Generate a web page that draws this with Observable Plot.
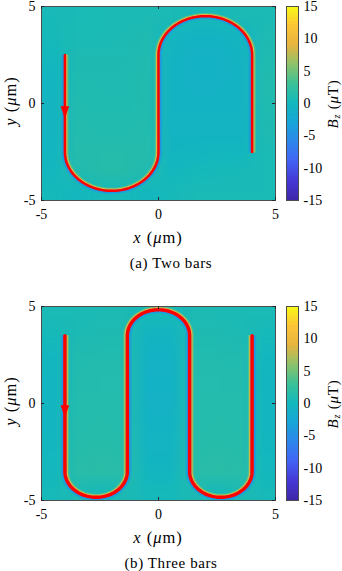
<!DOCTYPE html>
<html><head><meta charset="utf-8">
<script src="https://cdn.jsdelivr.net/npm/d3@7"></script>
<script src="https://cdn.jsdelivr.net/npm/@observablehq/plot@0.6"></script>
<style>
html,body{margin:0;padding:0;background:#fff;}
#root{position:relative;width:342px;height:571px;overflow:hidden;font-family:"Liberation Serif","DejaVu Serif",serif;color:#000;}
#root svg{position:absolute;}
.cap{position:absolute;left:0;width:342px;text-align:center;font-size:15px;line-height:16px;letter-spacing:0.6px;}
</style></head><body><div id="root"></div>
<script>
// ---------------- data ----------------
const xTicks = [-5, 0, 5];
const yTicks = [-5, 0, 5];
const cbTicks = [-15, -10, -5, 0, 5, 10, 15];
const bzDomain = [-15, 15];
const parulaDomain = [-15, -12, -9, -6, -3, 0, 3, 6, 9, 12, 15];
const parulaColors = ["#3e26a8", "#4538d5", "#4262f4", "#2d86ec", "#17a5d8", "#13b8bd", "#3cc197", "#8dc26a", "#e7b43f", "#fcc535", "#f9fb15"];
const gridExtent = [-5, 5];

// panel (a): two bars
const barsA = [-4, 0, 4];          // x of straight segments (µm)
const barEndsA = [2.5, -2.5];      // y of their ends (µm)
const arrowA = [-4, -0.72];        // arrow tip (µm)
const fieldA = [                   // Bz (µT), rows y = 4.5 … -4.5, cols x = -4.5 … 4.5
  [ 0.4,  0.5,  0.6,  0.6,  0.7,  0.6,  0.3,  0.3,  0.6,  0.6],
  [ 0.3,  0.6,  0.6,  0.7,  0.9, -0.4, -0.7, -0.7, -0.4,  0.8],
  [ 0.0,  0.8,  0.8,  0.8,  1.0, -0.6, -0.9, -0.9, -0.6,  0.9],
  [-0.3,  0.9,  0.9,  0.9,  1.1, -0.7, -0.9, -0.9, -0.7,  1.0],
  [-0.4,  1.0,  0.9,  0.9,  1.1, -0.7, -0.8, -0.8, -0.7,  1.0],
  [-0.4,  1.1,  1.0,  1.0,  1.1, -0.7, -0.7, -0.7, -0.7,  0.9],
  [-0.4,  1.2,  1.1,  1.1,  1.2, -0.6, -0.6, -0.6, -0.6,  0.8],
  [-0.3,  1.3,  1.3,  1.3,  1.3, -0.4, -0.3, -0.2, -0.2,  0.6],
  [-0.1,  1.0,  1.4,  1.4,  1.0, -0.1,  0.2,  0.3,  0.4,  0.5],
  [ 0.2, -0.1,  0.3,  0.3, -0.1,  0.3,  0.5,  0.5,  0.5,  0.5]
];

// panel (b): three bars
const barsB = [-4, -1.33, 1.33, 4];
const barEndsB = [3.5, -3.5];
const arrowB = [-4, -0.67];
const fieldB = [
  [ 0.5,  0.6,  0.7,  0.7,  0.2,  0.2,  0.7,  0.7,  0.6,  0.5],
  [ 0.2,  0.7,  0.9,  0.9, -0.6, -0.6,  0.9,  0.9,  0.7,  0.2],
  [-0.2,  1.0,  1.1,  1.1, -0.8, -0.8,  1.1,  1.1,  1.0, -0.2],
  [-0.3,  1.1,  1.2,  1.2, -0.9, -0.9,  1.2,  1.2,  1.1, -0.3],
  [-0.3,  1.2,  1.2,  1.2, -0.9, -0.9,  1.2,  1.2,  1.2, -0.3],
  [-0.3,  1.2,  1.3,  1.2, -0.8, -0.8,  1.2,  1.3,  1.2, -0.3],
  [-0.3,  1.3,  1.4,  1.3, -0.7, -0.7,  1.3,  1.4,  1.3, -0.3],
  [-0.2,  1.4,  1.5,  1.4, -0.6, -0.6,  1.4,  1.5,  1.4, -0.2],
  [ 0.0,  1.5,  1.7,  1.5, -0.3, -0.3,  1.5,  1.7,  1.5,  0.0],
  [ 0.3,  0.7,  0.3,  0.7,  0.2,  0.2,  0.7,  0.3,  0.7,  0.3]
];

// near-wire fringe levels (µT): left / right of the current
const fringeLevels = {posIn: 9, posOut: 3.5, negIn: -5, negOut: -2};

// ---------------- helpers ----------------
const colorOpts = {type: "linear", domain: parulaDomain, range: parulaColors, interpolate: "rgb", clamp: true};
const fmt = d => String(d);
const FONT = "Liberation Serif, DejaVu Serif, serif";

// points along the wire, offset d (µm) to the left of the current direction
function wirePath(bars, ends, d) {
  const pts = [], N = 72;
  for (let i = 0; i < bars.length; i++) {
    const down = i % 2 === 0;
    const y0 = down ? ends[0] : ends[1];
    const y1 = down ? ends[1] : ends[0];
    const nx = down ? d : -d;
    pts.push({x: bars[i] + nx, y: y0}, {x: bars[i] + nx, y: y1});
    if (i < bars.length - 1) {
      const cx = (bars[i] + bars[i + 1]) / 2, cy = y1;
      const r0 = Math.abs(bars[i + 1] - bars[i]) / 2;
      const r = down ? r0 - d : r0 + d;
      for (let k = 1; k < N; k++) {
        const t = Math.PI + (down ? 1 : -1) * Math.PI * k / N;
        pts.push({x: cx + r * Math.cos(t), y: cy + r * Math.sin(t)});
      }
    }
  }
  return pts;
}

const arrowHead = {draw(ctx) { ctx.moveTo(0, 0); ctx.lineTo(-4, -11); ctx.lineTo(4, -11); ctx.closePath(); }};

const W = 342, H = 250, mT = 6, mB = 50, mL = 41, mR = 67;
const innerW = W - mL - mR, innerH = H - mT - mB;

function panel(field, bars, ends, arrow, lw, offIn, offOut) {
  const fr = [
    {d: offOut, v: fringeLevels.posOut}, {d: -offOut, v: fringeLevels.negOut},
    {d: offIn, v: fringeLevels.posIn}, {d: -offIn, v: fringeLevels.negIn}
  ];
  return Plot.plot({
    width: W, height: H, marginTop: mT, marginBottom: mB, marginLeft: mL, marginRight: mR,
    x: {domain: gridExtent}, y: {domain: gridExtent},
    color: colorOpts,
    style: {fontFamily: FONT, fontSize: "14px", color: "#000", background: "transparent", overflow: "visible"},
    marks: [
      Plot.raster(field.flat(), {width: field[0].length, height: field.length,
        x1: gridExtent[0], x2: gridExtent[1], y1: gridExtent[1], y2: gridExtent[0], fill: d => d}),
      ...fr.map(f => Plot.line(wirePath(bars, ends, f.d), {x: "x", y: "y", stroke: () => f.v, strokeWidth: 1.3})),
      Plot.line(wirePath(bars, ends, 0), {x: "x", y: "y", stroke: "#ff0000", strokeWidth: lw, strokeLinejoin: "round"}),
      Plot.dot([arrow], {x: d => d[0], y: d => d[1], symbol: arrowHead, r: 6, fill: "#ff0000", stroke: "#ff0000", strokeWidth: 0.5}),
      Plot.frame({stroke: "#4d4d4d", strokeWidth: 1}),
      Plot.tickX(xTicks, {x: d => d, insetTop: innerH - 3, stroke: "#262626"}),
      Plot.tickX(xTicks, {x: d => d, insetBottom: innerH - 3, stroke: "#262626"}),
      Plot.tickY(yTicks, {y: d => d, insetRight: innerW - 3, stroke: "#262626"}),
      Plot.tickY(yTicks, {y: d => d, insetLeft: innerW - 3, stroke: "#262626"}),
      Plot.axisX(xTicks, {tickSize: 0, tickPadding: 9, tickFormat: fmt, fontSize: 14, label: null}),
      Plot.axisY(yTicks, {tickSize: 0, tickPadding: 6, tickFormat: fmt, fontSize: 14, label: null})
    ]
  });
}

function colorbar() {
  const step = 0.25;
  const ramp = d3.range(bzDomain[0], bzDomain[1], step);
  return Plot.plot({
    width: 62, height: H, marginTop: mT, marginBottom: mB, marginLeft: 6, marginRight: 44,
    x: {domain: [0, 1], axis: null}, y: {domain: bzDomain},
    color: colorOpts,
    style: {fontFamily: FONT, fontSize: "14px", color: "#000", background: "transparent", overflow: "visible"},
    marks: [
      Plot.rect(ramp, {x1: 0, x2: 1, y1: d => d, y2: d => d + step, fill: d => d + step / 2, shapeRendering: "crispEdges"}),
      Plot.frame({stroke: "#4d4d4d", strokeWidth: 1}),
      Plot.axisY(cbTicks, {anchor: "right", tickSize: 0, tickPadding: 5, tickFormat: fmt, fontSize: 14, label: null})
    ]
  });
}

function styledText(sel, size, ls) {
  return sel.attr("text-anchor", "middle").attr("dominant-baseline", "central")
    .attr("font-family", FONT).attr("font-size", size).attr("letter-spacing", ls).attr("fill", "#000");
}
function rotLabel(svg, x, y, size, ls, parts) {
  const t = styledText(d3.select(svg).append("text")
    .attr("transform", `translate(${x},${y}) rotate(-90)`), size, ls);
  parts(t);
}
function xLabel(svg) {
  const t = styledText(d3.select(svg).append("text").attr("x", mL + innerW / 2).attr("y", 237), 16.5, "1px");
  t.append("tspan").attr("font-style", "italic").text("x");
  t.append("tspan").text(" (");
  t.append("tspan").attr("font-style", "italic").text("μ");
  t.append("tspan").text("m)");
}
function yParts(t) {
  t.append("tspan").attr("font-style", "italic").text("y");
  t.append("tspan").text(" (");
  t.append("tspan").attr("font-style", "italic").text("μ");
  t.append("tspan").text("m)");
}
function bParts(t) {
  t.append("tspan").attr("font-style", "italic").text("B");
  t.append("tspan").attr("font-style", "italic").attr("font-size", 10).attr("dy", 3).text("z");
  t.append("tspan").attr("dy", -3).text(" (");
  t.append("tspan").attr("font-style", "italic").text("μ");
  t.append("tspan").text("T)");
}

const root = document.getElementById("root");
function addPanel(top, field, bars, ends, arrow, lw, offIn, offOut, caption, capTop) {
  const svg = panel(field, bars, ends, arrow, lw, offIn, offOut);
  svg.style.left = "0px"; svg.style.top = top + "px";
  xLabel(svg);
  rotLabel(svg, 10, 101, 16.5, "1px", yParts);
  root.appendChild(svg);
  const cb = colorbar();
  cb.style.left = "280px"; cb.style.top = top + "px";
  rotLabel(cb, 53, 104, 15, "0.8px", bParts);
  root.appendChild(cb);
  const c = document.createElement("div");
  c.className = "cap"; c.style.top = capTop + "px"; c.textContent = caption;
  root.appendChild(c);
}
addPanel(0, fieldA, barsA, barEndsA, arrowA, 2.5, 0.08, 0.135, "(a) Two bars", 255);
addPanel(300, fieldB, barsB, barEndsB, arrowB, 3.4, 0.1, 0.155, "(b) Three bars", 555);
</script></body></html>
